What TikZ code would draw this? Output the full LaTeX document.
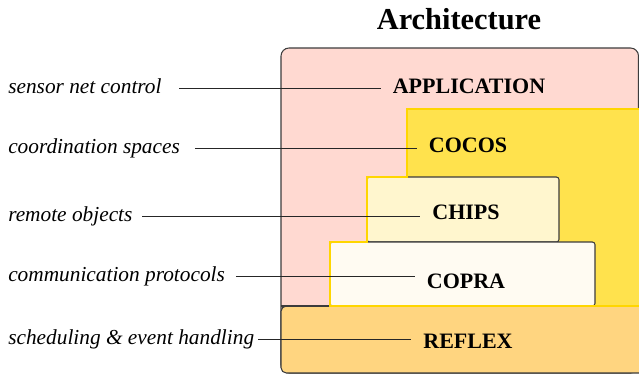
\documentclass[tikz,border=0pt]{standalone}
\usepackage{fontspec}
\setmainfont{Liberation Serif}
\usetikzlibrary{positioning,calc}
\usepackage{xcolor}

\definecolor{appfill}{RGB}{255,217,209}
\definecolor{cocosfill}{RGB}{255,226,77}
\definecolor{chipsfill}{RGB}{255,246,206}
\definecolor{coprafill}{RGB}{255,251,242}
\definecolor{reflexfill}{RGB}{255,213,128}
\definecolor{goldline}{RGB}{255,214,0}
\definecolor{boxline}{RGB}{60,60,60}

\tikzset{
  layer/.style={font=\fontsize{16.5}{19}\selectfont\bfseries, inner sep=0pt,
    text height=11.5pt, text depth=3.5pt},
  role/.style={font=\fontsize{16}{19}\selectfont\itshape, inner sep=0pt,
    text height=11.5pt, text depth=3.5pt, anchor=west},
  leader/.style={draw=black!85, line width=0.7pt, shorten >=9pt},
  tier/.style={draw=boxline, line width=0.8pt}
}

\begin{document}
\begin{tikzpicture}[x=0.75pt,y=-0.75pt]
    \useasboundingbox (0,0) rectangle (639,375);

    \node[font=\fontsize{22.8}{26}\selectfont\bfseries] (title) at (459,19) {Architecture};

    % stacked tiers, back to front
    \draw[tier, fill=appfill, rounded corners=6pt] (281,48) rectangle (638.5,373);
    \fill[cocosfill] (407,109) rectangle (645,306);
    \draw[tier, fill=chipsfill, rounded corners=2pt] (367,177) rectangle (559,242);
    \draw[tier, fill=coprafill, rounded corners=2pt] (330,242) rectangle (595,306);
    \draw[tier, fill=reflexfill, rounded corners=4pt] (281,306) -- (645,306) -- (645,373) -- (281,373) -- cycle;
    \draw[tier] (281,306) -- (330,306);
    \draw[goldline, line width=1.5pt] (645,109) -- (407,109) -- (407,177) -- (367,177)
        -- (367,242) -- (330,242) -- (330,306) -- (645,306);

    % tier names
    \node[layer] (app) at (469,88) {APPLICATION};
    \node[layer] (cocos) at (468,147.5) {COCOS};
    \node[layer] (chips) at (466,214.5) {CHIPS};
    \node[layer] (copra) at (466,283.5) {COPRA};
    \node[layer] (reflex) at (468,343) {REFLEX};

    % what each tier does
    \node[role] (control) at (8,88.5) {sensor net control};
    \node[role] (spaces) at (8,148) {coordination spaces};
    \node[role] (objects) at (8,216) {remote objects};
    \node[role] (protocols) at (8,276.5) {communication protocols};
    \node[role] (sched) at (8,339.5) {scheduling \& event handling};

    \draw[leader, shorten <=13pt] (control.east) -- (control.east -| app.west);
    \draw[leader, shorten <=11pt] (spaces.east) -- (spaces.east -| cocos.west);
    \draw[leader, shorten <=7pt] (objects.east) -- (objects.east -| chips.west);
    \draw[leader, shorten <=8pt] (protocols.east) -- (protocols.east -| copra.west);
    \draw[leader, shorten <=3pt] (sched.east) -- (sched.east -| reflex.west);
\end{tikzpicture}
\end{document}
